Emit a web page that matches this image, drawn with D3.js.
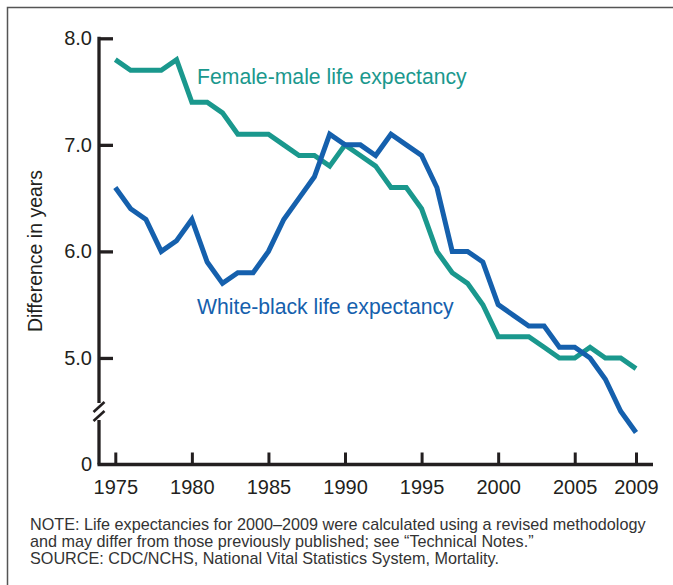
<!DOCTYPE html>
<html>
<head>
<meta charset="utf-8">
<script src="https://cdn.jsdelivr.net/npm/d3@7"></script>
<style>
  body { margin: 0; background: #fff; }
  svg { display: block; font-family: "Liberation Sans", Arial, sans-serif; }
</style>
</head>
<body>
<div id="chart"></div>
<script>
// data
const years = d3.range(1975, 2010);
const femaleMale = [7.8, 7.7, 7.7, 7.7, 7.8, 7.4, 7.4, 7.3, 7.1, 7.1,
                    7.1, 7.0, 6.9, 6.9, 6.8, 7.0, 6.9, 6.8, 6.6, 6.6,
                    6.4, 6.0, 5.8, 5.7, 5.5, 5.2, 5.2, 5.2, 5.1, 5.0,
                    5.0, 5.1, 5.0, 5.0, 4.9];
const whiteBlack = [6.6, 6.4, 6.3, 6.0, 6.1, 6.3, 5.9, 5.7, 5.8, 5.8,
                    6.0, 6.3, 6.5, 6.7, 7.1, 7.0, 7.0, 6.9, 7.1, 7.0,
                    6.9, 6.6, 6.0, 6.0, 5.9, 5.5, 5.4, 5.3, 5.3, 5.1,
                    5.1, 5.0, 4.8, 4.5, 4.3];
const xTickValues = [1975, 1980, 1985, 1990, 1995, 2000, 2005, 2009];
// the axis is broken: the baseline sits where 4.0 would be and is labelled 0
const yTickValues = [4, 5, 6, 7, 8];
const yTickLabels = ["0", "5.0", "6.0", "7.0", "8.0"];
const noteLines = [
  "NOTE: Life expectancies for 2000\u20132009 were calculated using a revised methodology",
  "and may differ from those previously published; see \u201cTechnical Notes.\u201d",
  "SOURCE: CDC/NCHS, National Vital Statistics System, Mortality."
];

const width = 673, height = 585;
const axisColor = "#231f20";
const teal = "#1a988d";
const blue = "#1560ad";

const svg = d3.select("#chart").append("svg")
    .attr("width", width)
    .attr("height", height);

// frame
svg.append("path")
    .attr("d", "M7.5,585V7.5H673")
    .attr("fill", "none")
    .attr("stroke", "#555")
    .attr("stroke-width", 1.5);

const axisX = 99;
const x = d3.scaleLinear().domain([1975, 2009]).range([115.3, 636]);
const y = d3.scaleLinear().domain([4, 8]).range([464.5, 38.3]);

// x axis
const gx = svg.append("g")
    .attr("transform", `translate(0,${y(4)})`)
    .call(d3.axisBottom(x)
        .tickValues(xTickValues)
        .tickFormat(d3.format("d"))
        .tickSize(-12)
        .tickPadding(15.5));
gx.select(".domain").remove();
gx.selectAll(".tick line").attr("stroke", axisColor).attr("stroke-width", 3);
gx.selectAll(".tick text").attr("fill", axisColor).style("font-size", "20px");
svg.append("line")
    .attr("x1", axisX - 1.5).attr("x2", 653)
    .attr("y1", y(4)).attr("y2", y(4))
    .attr("stroke", axisColor).attr("stroke-width", 3.3);

// y axis
const gy = svg.append("g")
    .attr("transform", `translate(${axisX},0)`)
    .call(d3.axisLeft(y)
        .tickValues(yTickValues)
        .tickFormat((d, i) => yTickLabels[i])
        .tickSize(-14)
        .tickPadding(7));
gy.select(".domain").remove();
gy.selectAll(".tick line").attr("stroke", axisColor).attr("stroke-width", 3.3)
    .filter(d => d === 4).remove();
gy.selectAll(".tick text").attr("fill", axisColor).style("font-size", "20px");

// y axis line with the break
const breakTop = 403, breakBottom = 420;
svg.append("line")
    .attr("x1", axisX).attr("x2", axisX)
    .attr("y1", y(8) - 1.6).attr("y2", breakTop)
    .attr("stroke", axisColor).attr("stroke-width", 3.3);
svg.append("line")
    .attr("x1", axisX).attr("x2", axisX)
    .attr("y1", breakBottom).attr("y2", y(4))
    .attr("stroke", axisColor).attr("stroke-width", 3.3);
[breakTop + 4, breakBottom - 4].forEach(cy => {
  svg.append("line")
      .attr("x1", axisX - 5.5).attr("x2", axisX + 5.5)
      .attr("y1", cy + 5).attr("y2", cy - 5)
      .attr("stroke", axisColor).attr("stroke-width", 2.6);
});

// y axis title
svg.append("text")
    .attr("transform", "translate(42,251) rotate(-90)")
    .attr("text-anchor", "middle")
    .attr("fill", axisColor)
    .style("font-size", "19.5px")
    .text("Difference in years");

// lines
const line = d3.line()
    .x((d, i) => x(years[i]))
    .y(d => y(d));

svg.append("path")
    .datum(femaleMale)
    .attr("d", line)
    .attr("fill", "none")
    .attr("stroke", teal)
    .attr("stroke-width", 5);

svg.append("path")
    .datum(whiteBlack)
    .attr("d", line)
    .attr("fill", "none")
    .attr("stroke", blue)
    .attr("stroke-width", 5);

// series labels
svg.append("text")
    .attr("x", 197).attr("y", 84)
    .attr("fill", teal)
    .style("font-size", "21.2px")
    .text("Female-male life expectancy");

svg.append("text")
    .attr("x", 197).attr("y", 314)
    .attr("fill", blue)
    .style("font-size", "21.2px")
    .text("White-black life expectancy");

// note and source
svg.append("g").selectAll("text")
    .data(noteLines)
    .join("text")
    .attr("x", 30)
    .attr("y", (d, i) => 529.5 + i * 17)
    .attr("fill", "#333")
    .style("font-size", "16.2px")
    .text(d => d);
</script>
</body>
</html>
